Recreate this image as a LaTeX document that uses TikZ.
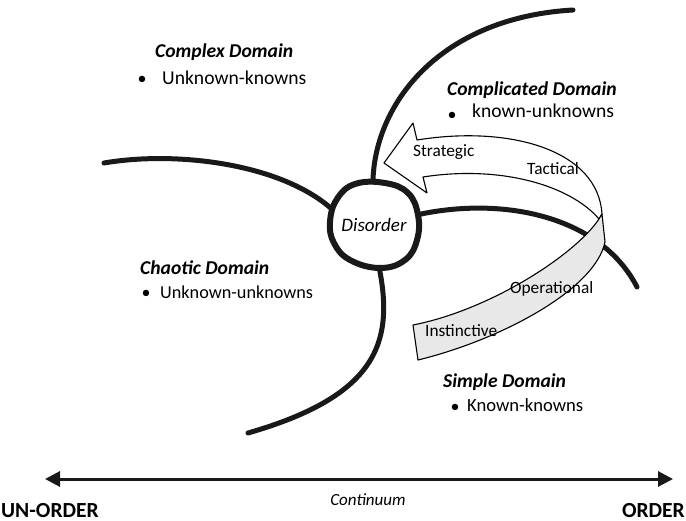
\documentclass[tikz,border=0pt]{standalone}
\usepackage{fontspec}
\setmainfont{Carlito}
\usetikzlibrary{arrows.meta}

\tikzset{
  domaintitle/.style={font=\fontsize{19.6}{22}\selectfont\bfseries\itshape, inner sep=0pt, anchor=base west},
  itemtext/.style={font=\fontsize{19.6}{22}\selectfont, inner sep=0pt, anchor=base west},
  bulletmark/.style={font=\fontsize{18}{22}\selectfont, inner sep=0pt, anchor=center},
  bandlabel/.style={font=\fontsize{17.3}{20}\selectfont, inner sep=0pt, anchor=base west},
  ridge/.style={line width=5pt, line cap=round, draw=black!90},
  blob/.style={line width=6pt, draw=black!90, fill=white},
  band/.style={line width=1.1pt, draw=black, line join=round},
  axisline/.style={line width=3pt, draw=black!90, {Triangle[length=15pt,width=15pt]}-{Triangle[length=15pt,width=15pt]}},
  endlabel/.style={font=\fontsize{21.5}{24}\selectfont\bfseries, inner sep=0pt},
}

\begin{document}
\begin{tikzpicture}[x=1pt,y=-1pt]
\useasboundingbox (0,0) rectangle (686,521);

% ridges separating the domains
\draw[ridge] (373,190) .. controls (370,110) and (435,18) .. (573,10);
\draw[ridge] (104,163) .. controls (180,150) and (290,165) .. (338,215);
\draw[ridge] (412,216) .. controls (500,195) and (600,215) .. (637,287);
\draw[ridge] (378,262) .. controls (395,340) and (380,395) .. (248,433);

% central disorder region
\draw[blob] plot[smooth cycle, tension=0.7] coordinates {
  (355,184) (385,183) (408,193) (418,215) (417,240) (405,260)
  (380,268) (350,260) (334,243) (330,222) (337,199)};
\node[font=\fontsize{19}{22}\selectfont\itshape, inner sep=0pt, anchor=base] (disorder) at (374,232) {Disorder};

% curved band: front face (white, with arrow head)
\draw[band, fill=white]
  (384,163) -- (413,123) -- (417,140)
  .. controls (510,125) and (598,150) .. (602,214)
  -- (599,219)
  .. controls (570,185) and (500,165) .. (423,177)
  -- (427,193) -- cycle;

% curved band: back face (grey)
\draw[band, fill=black!9]
  (599,219) .. controls (575,255) and (490,310) .. (413,325)
  -- (418,360)
  .. controls (500,340) and (595,290) .. (605,242)
  -- (602,214) -- cycle;

\node[bandlabel] (strategic) at (413,157) {Strategic};
\node[bandlabel] (tactical) at (527,175) {Tactical};
\node[bandlabel] (operational) at (510,294) {Operational};
\node[bandlabel] (instinctive) at (425,337) {Instinctive};

% domain labels
\node[domaintitle] (complex) at (155,58) {Complex Domain};
\node[bulletmark] (b1) at (142,80) {\textbullet};
\node[itemtext] (complexitem) at (162,85) {Unknown-knowns};

\node[domaintitle] (complicated) at (447,96) {Complicated Domain};
\node[bulletmark] (b2) at (452,116) {\textbullet};
\node[itemtext] (complicateditem) at (472,118) {known-unknowns};

\node[domaintitle] (chaotic) at (140,275) {Chaotic Domain};
\node[bulletmark] (b3) at (146,294) {\textbullet};
\node[itemtext, font=\fontsize{18.2}{22}\selectfont] (chaoticitem) at (160,299) {Unknown-unknowns};

\node[domaintitle] (simple) at (443,388) {Simple Domain};
\node[bulletmark] (b4) at (455,408) {\textbullet};
\node[itemtext, font=\fontsize{18.6}{22}\selectfont] (simpleitem) at (467,412) {Known-knowns};

% order continuum
\coordinate (unorderend) at (45,479);
\coordinate (orderend) at (673,479);
\draw[axisline] (unorderend) -- (orderend);
\node[endlabel, anchor=base west] (unorder) at (1,517) {UN-ORDER};
\node[endlabel, anchor=base east] (order) at (685,517) {ORDER};
\node[font=\fontsize{17}{20}\selectfont\itshape, inner sep=0pt, anchor=base] (continuum) at (368,505) {Continuum};
\end{tikzpicture}
\end{document}
